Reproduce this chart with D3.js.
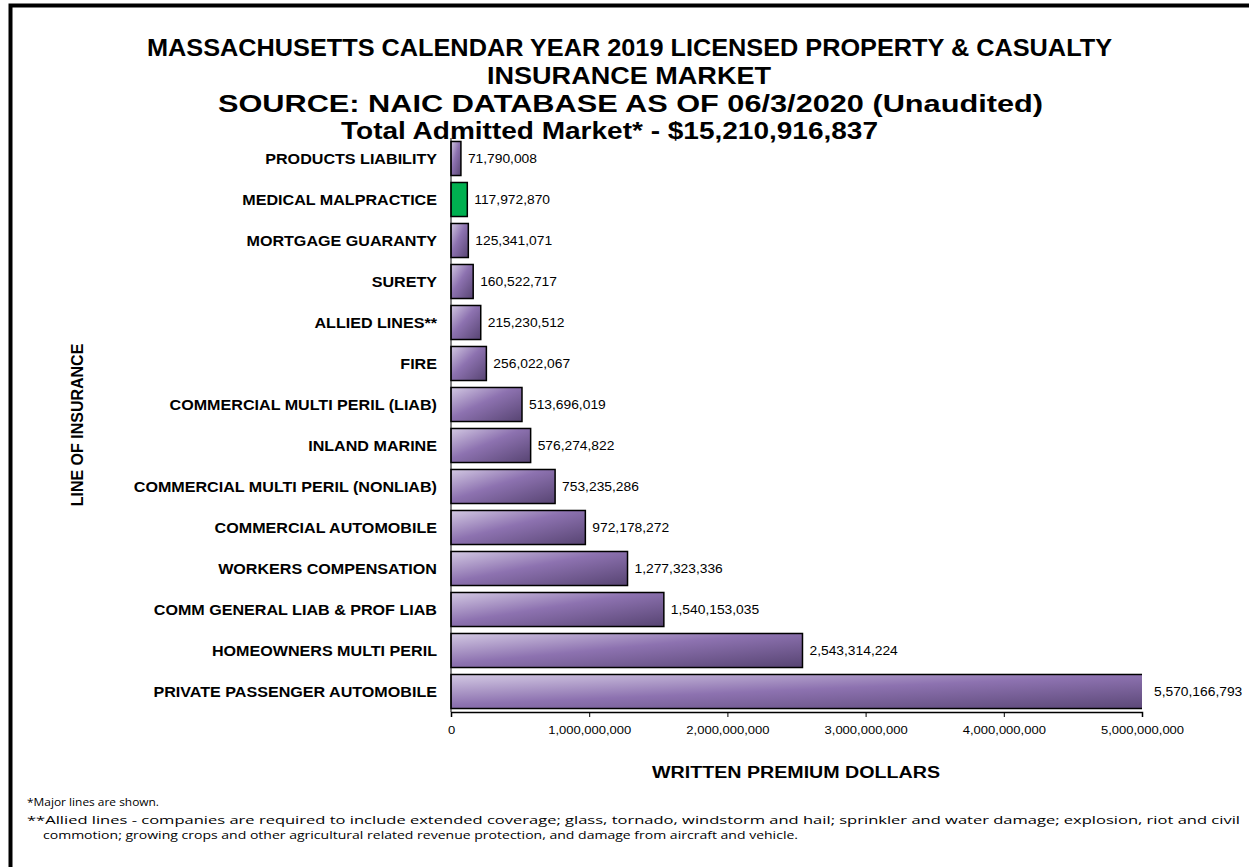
<!DOCTYPE html>
<html><head><meta charset="utf-8">
<script src="https://cdn.jsdelivr.net/npm/d3@7"></script>
<style>body{margin:0;background:#fff}svg{display:block}</style>
</head><body>
<script>
const categories = ["PRODUCTS LIABILITY","MEDICAL MALPRACTICE","MORTGAGE GUARANTY","SURETY","ALLIED LINES**","FIRE","COMMERCIAL MULTI PERIL (LIAB)","INLAND MARINE","COMMERCIAL MULTI PERIL (NONLIAB)","COMMERCIAL AUTOMOBILE","WORKERS COMPENSATION","COMM GENERAL LIAB & PROF LIAB","HOMEOWNERS MULTI PERIL","PRIVATE PASSENGER AUTOMOBILE"];
const values = [71790008,117972870,125341071,160522717,215230512,256022067,513696019,576274822,753235286,972178272,1277323336,1540153035,2543314224,5570166793];
const highlighted = ["MEDICAL MALPRACTICE"];
const xTicks = [0,1000000000,2000000000,3000000000,4000000000,5000000000];
const titleLines = ["MASSACHUSETTS CALENDAR YEAR 2019 LICENSED PROPERTY & CASUALTY","INSURANCE MARKET","SOURCE: NAIC DATABASE AS OF 06/3/2020 (Unaudited)","Total Admitted Market* - $15,210,916,837"];
const footnotes = ["*Major lines are shown.","**Allied lines - companies are required to include extended coverage; glass, tornado, windstorm and hail; sprinkler and water damage; explosion, riot and civil","commotion; growing crops and other agricultural related revenue protection, and damage from aircraft and vehicle."];

const W=1249,H=867;
const FONT="Liberation Sans, Arial, sans-serif";
const svg=d3.select("body").append("svg").attr("width",W).attr("height",H);
const defs=svg.append("defs");
const g1=defs.append("linearGradient").attr("id","pg").attr("x1",0).attr("y1",0).attr("x2",1).attr("y2",1);
g1.append("stop").attr("offset","0%").attr("stop-color","#d3c9e3");
g1.append("stop").attr("offset","45%").attr("stop-color","#8d72b0");
g1.append("stop").attr("offset","100%").attr("stop-color","#574472");
const clip=defs.append("clipPath").attr("id","cp");

function stretch(sel,k){
  sel.each(function(){
    const w=this.getComputedTextLength();
    d3.select(this).attr("textLength",w*k).attr("lengthAdjust","spacingAndGlyphs");
  });
}

// frame
svg.append("rect").attr("x",10.5).attr("y",5.5).attr("width",W).attr("height",H).attr("fill","none").attr("stroke","#000").attr("stroke-width",4);

const x=d3.scaleLinear().domain([0,5000000000]).range([451,1142]);
const y=d3.scaleBand().domain(categories).range([138,712]).paddingInner(0.17).paddingOuter(0.085);
clip.append("rect").attr("x",440).attr("y",130).attr("width",x(5000000000)-440).attr("height",600);

// title
const tX=[147,487,218,341], tL=[965,284,825,537];
svg.append("g").selectAll("text").data(titleLines).join("text")
 .attr("x",(d,i)=>tX[i]).attr("y",(d,i)=>56+i*27.8)
 .attr("font-family",FONT).attr("font-weight","bold").attr("font-size",24).attr("fill","#000")
 .attr("textLength",(d,i)=>tL[i]).attr("lengthAdjust","spacingAndGlyphs").text(d=>d);

// bars
svg.append("g").attr("clip-path","url(#cp)").selectAll("rect").data(categories).join("rect")
 .attr("x",x(0)).attr("y",d=>y(d)).attr("height",y.bandwidth())
 .attr("width",(d,i)=>x(values[i])-x(0))
 .attr("fill",d=>highlighted.includes(d)?"#00b050":"url(#pg)")
 .attr("stroke","#000").attr("stroke-width",1.5);

// value labels
const fmt=d3.format(",");
svg.append("g").selectAll("text").data(categories).join("text")
 .attr("x",(d,i)=>Math.min(x(values[i]),x(5000000000))+(values[i]>5000000000?12:7))
 .attr("y",d=>y(d)+y.bandwidth()/2+4.5)
 .attr("font-family",FONT).attr("font-size",12).attr("fill","#000")
 .text((d,i)=>fmt(values[i]))
 .call(stretch,1.15);

// category labels
svg.append("g").selectAll("text").data(categories).join("text")
 .attr("x",437).attr("y",d=>y(d)+y.bandwidth()/2+5)
 .attr("text-anchor","end").attr("font-family",FONT).attr("font-weight","bold").attr("font-size",14)
 .text(d=>d)
 .call(stretch,1.15);

// y axis line
svg.append("line").attr("x1",451).attr("x2",451).attr("y1",138).attr("y2",712).attr("stroke","#000").attr("stroke-width",1);

// x axis
const xa=svg.append("g").attr("transform","translate(0,712)")
 .call(d3.axisBottom(x).tickValues(xTicks).tickFormat(fmt).tickSizeOuter(0).tickSize(5).tickPadding(9));
xa.select(".domain").attr("stroke","#000").attr("stroke-width",1.5);
xa.selectAll(".tick line").attr("stroke","#000");
xa.selectAll("text").attr("font-family",FONT).attr("font-size",11.5).attr("fill","#000").call(stretch,1.13);

// axis titles
svg.append("text").attr("x",796).attr("y",778).attr("text-anchor","middle")
 .attr("font-family",FONT).attr("font-weight","bold").attr("font-size",16)
 .attr("textLength",288).attr("lengthAdjust","spacingAndGlyphs").text("WRITTEN PREMIUM DOLLARS");
svg.append("text").attr("transform","translate(83,425) rotate(-90)").attr("text-anchor","middle")
 .attr("font-family",FONT).attr("font-weight","bold").attr("font-size",16).text("LINE OF INSURANCE");

// footnotes
const fy=[806,824,839], fl=[132,1213,755], fx=[27,27,43];
svg.append("g").selectAll("text").data(footnotes).join("text")
 .attr("x",(d,i)=>fx[i]).attr("y",(d,i)=>fy[i])
 .attr("font-family","Open Sans, Lato, sans-serif").attr("font-size",10.5).attr("fill","#000")
 .attr("textLength",(d,i)=>fl[i]).attr("lengthAdjust","spacingAndGlyphs")
 .text(d=>d);
</script>
</body></html>
